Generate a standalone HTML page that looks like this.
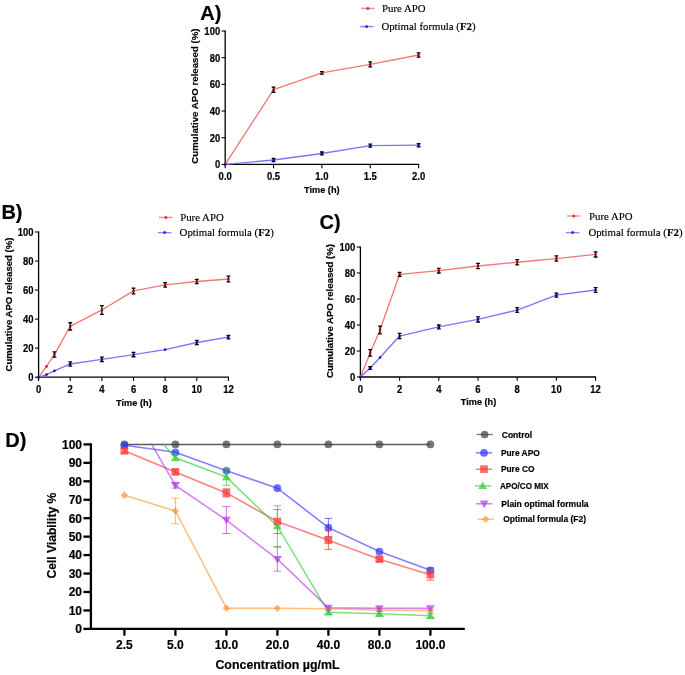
<!DOCTYPE html>
<html><head><meta charset="utf-8"><style>
html,body{margin:0;padding:0;background:#fff;}
body{width:685px;height:675px;overflow:hidden;}
svg{display:block;will-change:transform;} text[font-weight="bold"]{stroke:#000;stroke-width:0.18px;} text[font-weight="normal"]{stroke:#000;stroke-width:0.15px;}
</style></head><body>
<svg width="685" height="675" viewBox="0 0 685 675" font-family='"Liberation Sans", sans-serif'>
<rect width="685" height="675" fill="#fff"/>
<line x1="225.20" y1="30.50" x2="225.20" y2="165.00" stroke="#000" stroke-width="1.3" />
<line x1="224.60" y1="164.40" x2="419.10" y2="164.40" stroke="#000" stroke-width="1.3" />
<line x1="221.60" y1="164.40" x2="225.20" y2="164.40" stroke="#000" stroke-width="1.1" />
<text transform="translate(220.20,168.41) scale(1,1.12)" font-size="9.5" text-anchor="end" font-weight="bold" font-family='"Liberation Sans", sans-serif' fill="#000" >0</text>
<line x1="221.60" y1="137.72" x2="225.20" y2="137.72" stroke="#000" stroke-width="1.1" />
<text transform="translate(220.20,141.73) scale(1,1.12)" font-size="9.5" text-anchor="end" font-weight="bold" font-family='"Liberation Sans", sans-serif' fill="#000" >20</text>
<line x1="221.60" y1="111.04" x2="225.20" y2="111.04" stroke="#000" stroke-width="1.1" />
<text transform="translate(220.20,115.05) scale(1,1.12)" font-size="9.5" text-anchor="end" font-weight="bold" font-family='"Liberation Sans", sans-serif' fill="#000" >40</text>
<line x1="221.60" y1="84.36" x2="225.20" y2="84.36" stroke="#000" stroke-width="1.1" />
<text transform="translate(220.20,88.37) scale(1,1.12)" font-size="9.5" text-anchor="end" font-weight="bold" font-family='"Liberation Sans", sans-serif' fill="#000" >60</text>
<line x1="221.60" y1="57.68" x2="225.20" y2="57.68" stroke="#000" stroke-width="1.1" />
<text transform="translate(220.20,61.69) scale(1,1.12)" font-size="9.5" text-anchor="end" font-weight="bold" font-family='"Liberation Sans", sans-serif' fill="#000" >80</text>
<line x1="221.60" y1="31.00" x2="225.20" y2="31.00" stroke="#000" stroke-width="1.1" />
<text transform="translate(220.20,35.01) scale(1,1.12)" font-size="9.5" text-anchor="end" font-weight="bold" font-family='"Liberation Sans", sans-serif' fill="#000" >100</text>
<line x1="225.20" y1="164.40" x2="225.20" y2="168.20" stroke="#000" stroke-width="1.1" />
<text transform="translate(225.20,180.06) scale(1,1.12)" font-size="9.5" text-anchor="middle" font-weight="bold" font-family='"Liberation Sans", sans-serif' fill="#000" >0.0</text>
<line x1="273.55" y1="164.40" x2="273.55" y2="168.20" stroke="#000" stroke-width="1.1" />
<text transform="translate(273.55,180.06) scale(1,1.12)" font-size="9.5" text-anchor="middle" font-weight="bold" font-family='"Liberation Sans", sans-serif' fill="#000" >0.5</text>
<line x1="321.90" y1="164.40" x2="321.90" y2="168.20" stroke="#000" stroke-width="1.1" />
<text transform="translate(321.90,180.06) scale(1,1.12)" font-size="9.5" text-anchor="middle" font-weight="bold" font-family='"Liberation Sans", sans-serif' fill="#000" >1.0</text>
<line x1="370.25" y1="164.40" x2="370.25" y2="168.20" stroke="#000" stroke-width="1.1" />
<text transform="translate(370.25,180.06) scale(1,1.12)" font-size="9.5" text-anchor="middle" font-weight="bold" font-family='"Liberation Sans", sans-serif' fill="#000" >1.5</text>
<line x1="418.60" y1="164.40" x2="418.60" y2="168.20" stroke="#000" stroke-width="1.1" />
<text transform="translate(418.60,180.06) scale(1,1.12)" font-size="9.5" text-anchor="middle" font-weight="bold" font-family='"Liberation Sans", sans-serif' fill="#000" >2.0</text>
<text transform="translate(321.80,192.80) scale(1,1.08)" font-size="9.2" text-anchor="middle" font-weight="bold" font-family='"Liberation Sans", sans-serif' fill="#000" >Time (h)</text>
<text transform="translate(198.00,96.10) rotate(-90)" font-size="9.7" text-anchor="middle" font-weight="bold" font-family='"Liberation Sans", sans-serif'>Cumulative APO released (%)</text>
<text x="200.20" y="19.70" font-size="20" text-anchor="start" font-weight="bold" font-family='"Liberation Sans", sans-serif' fill="#000" >A)</text>
<polyline points="225.20,164.40 273.55,89.70 321.90,72.89 370.25,64.35 418.60,55.01" fill="none" stroke="#f27878" stroke-width="1.35" stroke-linejoin="round"/>
<rect x="224.10" y="163.30" width="2.2" height="2.2" fill="#b00000"/>
<path d="M273.55,87.16V92.23M271.65,87.16h3.8M271.65,92.23h3.8" stroke="#000" stroke-width="1.3" fill="none"/>
<rect x="272.45" y="88.60" width="2.2" height="2.2" fill="#b00000"/>
<path d="M321.90,71.55V74.22M320.00,71.55h3.8M320.00,74.22h3.8" stroke="#000" stroke-width="1.3" fill="none"/>
<rect x="320.80" y="71.79" width="2.2" height="2.2" fill="#b00000"/>
<path d="M370.25,61.82V66.88M368.35,61.82h3.8M368.35,66.88h3.8" stroke="#000" stroke-width="1.3" fill="none"/>
<rect x="369.15" y="63.25" width="2.2" height="2.2" fill="#b00000"/>
<path d="M418.60,52.88V57.15M416.70,52.88h3.8M416.70,57.15h3.8" stroke="#000" stroke-width="1.3" fill="none"/>
<rect x="417.50" y="53.91" width="2.2" height="2.2" fill="#b00000"/>
<polyline points="225.20,164.40 273.55,160.00 321.90,153.46 370.25,145.59 418.60,145.19" fill="none" stroke="#7878f2" stroke-width="1.35" stroke-linejoin="round"/>
<rect x="224.10" y="163.30" width="2.2" height="2.2" fill="#0000b0"/>
<path d="M273.55,158.40V161.60M271.65,158.40h3.8M271.65,161.60h3.8" stroke="#000" stroke-width="1.3" fill="none"/>
<rect x="272.45" y="158.90" width="2.2" height="2.2" fill="#0000b0"/>
<path d="M321.90,151.99V154.93M320.00,151.99h3.8M320.00,154.93h3.8" stroke="#000" stroke-width="1.3" fill="none"/>
<rect x="320.80" y="152.36" width="2.2" height="2.2" fill="#0000b0"/>
<path d="M370.25,144.12V147.06M368.35,144.12h3.8M368.35,147.06h3.8" stroke="#000" stroke-width="1.3" fill="none"/>
<rect x="369.15" y="144.49" width="2.2" height="2.2" fill="#0000b0"/>
<path d="M418.60,143.59V146.79M416.70,143.59h3.8M416.70,146.79h3.8" stroke="#000" stroke-width="1.3" fill="none"/>
<rect x="417.50" y="144.09" width="2.2" height="2.2" fill="#0000b0"/>
<line x1="361.00" y1="8.40" x2="374.60" y2="8.40" stroke="#f28a8a" stroke-width="1.4" />
<circle cx="367.80" cy="8.40" r="1.5" fill="#e83030"/>
<text x="382.00" y="12.10" font-size="10.8" text-anchor="start" font-weight="normal" font-family='"Liberation Serif", serif' fill="#000" >Pure APO</text>
<line x1="359.80" y1="26.60" x2="373.40" y2="26.60" stroke="#8a8af2" stroke-width="1.4" />
<circle cx="366.60" cy="26.60" r="1.5" fill="#3030e8"/>
<text x="381.40" y="30.30" font-size="10.8" text-anchor="start" font-weight="normal" font-family='"Liberation Serif", serif' fill="#000" >Optimal formula (<tspan font-weight="bold">F2</tspan>)</text>
<line x1="38.60" y1="231.50" x2="38.60" y2="377.80" stroke="#000" stroke-width="1.3" />
<line x1="38.00" y1="377.20" x2="228.90" y2="377.20" stroke="#000" stroke-width="1.3" />
<line x1="35.00" y1="377.20" x2="38.60" y2="377.20" stroke="#000" stroke-width="1.1" />
<text transform="translate(33.60,381.21) scale(1,1.12)" font-size="9.5" text-anchor="end" font-weight="bold" font-family='"Liberation Sans", sans-serif' fill="#000" >0</text>
<line x1="35.00" y1="348.16" x2="38.60" y2="348.16" stroke="#000" stroke-width="1.1" />
<text transform="translate(33.60,352.17) scale(1,1.12)" font-size="9.5" text-anchor="end" font-weight="bold" font-family='"Liberation Sans", sans-serif' fill="#000" >20</text>
<line x1="35.00" y1="319.12" x2="38.60" y2="319.12" stroke="#000" stroke-width="1.1" />
<text transform="translate(33.60,323.13) scale(1,1.12)" font-size="9.5" text-anchor="end" font-weight="bold" font-family='"Liberation Sans", sans-serif' fill="#000" >40</text>
<line x1="35.00" y1="290.08" x2="38.60" y2="290.08" stroke="#000" stroke-width="1.1" />
<text transform="translate(33.60,294.09) scale(1,1.12)" font-size="9.5" text-anchor="end" font-weight="bold" font-family='"Liberation Sans", sans-serif' fill="#000" >60</text>
<line x1="35.00" y1="261.04" x2="38.60" y2="261.04" stroke="#000" stroke-width="1.1" />
<text transform="translate(33.60,265.05) scale(1,1.12)" font-size="9.5" text-anchor="end" font-weight="bold" font-family='"Liberation Sans", sans-serif' fill="#000" >80</text>
<line x1="35.00" y1="232.00" x2="38.60" y2="232.00" stroke="#000" stroke-width="1.1" />
<text transform="translate(33.60,236.01) scale(1,1.12)" font-size="9.5" text-anchor="end" font-weight="bold" font-family='"Liberation Sans", sans-serif' fill="#000" >100</text>
<line x1="38.60" y1="377.20" x2="38.60" y2="381.00" stroke="#000" stroke-width="1.1" />
<text transform="translate(38.60,392.86) scale(1,1.12)" font-size="9.5" text-anchor="middle" font-weight="bold" font-family='"Liberation Sans", sans-serif' fill="#000" >0</text>
<line x1="70.24" y1="377.20" x2="70.24" y2="381.00" stroke="#000" stroke-width="1.1" />
<text transform="translate(70.24,392.86) scale(1,1.12)" font-size="9.5" text-anchor="middle" font-weight="bold" font-family='"Liberation Sans", sans-serif' fill="#000" >2</text>
<line x1="101.88" y1="377.20" x2="101.88" y2="381.00" stroke="#000" stroke-width="1.1" />
<text transform="translate(101.88,392.86) scale(1,1.12)" font-size="9.5" text-anchor="middle" font-weight="bold" font-family='"Liberation Sans", sans-serif' fill="#000" >4</text>
<line x1="133.52" y1="377.20" x2="133.52" y2="381.00" stroke="#000" stroke-width="1.1" />
<text transform="translate(133.52,392.86) scale(1,1.12)" font-size="9.5" text-anchor="middle" font-weight="bold" font-family='"Liberation Sans", sans-serif' fill="#000" >6</text>
<line x1="165.16" y1="377.20" x2="165.16" y2="381.00" stroke="#000" stroke-width="1.1" />
<text transform="translate(165.16,392.86) scale(1,1.12)" font-size="9.5" text-anchor="middle" font-weight="bold" font-family='"Liberation Sans", sans-serif' fill="#000" >8</text>
<line x1="196.80" y1="377.20" x2="196.80" y2="381.00" stroke="#000" stroke-width="1.1" />
<text transform="translate(196.80,392.86) scale(1,1.12)" font-size="9.5" text-anchor="middle" font-weight="bold" font-family='"Liberation Sans", sans-serif' fill="#000" >10</text>
<line x1="228.44" y1="377.20" x2="228.44" y2="381.00" stroke="#000" stroke-width="1.1" />
<text transform="translate(228.44,392.86) scale(1,1.12)" font-size="9.5" text-anchor="middle" font-weight="bold" font-family='"Liberation Sans", sans-serif' fill="#000" >12</text>
<text transform="translate(133.90,405.60) scale(1,1.08)" font-size="9.2" text-anchor="middle" font-weight="bold" font-family='"Liberation Sans", sans-serif' fill="#000" >Time (h)</text>
<text transform="translate(12.40,304.50) rotate(-90)" font-size="9.6" text-anchor="middle" font-weight="bold" font-family='"Liberation Sans", sans-serif'>Cumulative APO released (%)</text>
<text x="1.40" y="218.90" font-size="20" text-anchor="start" font-weight="bold" font-family='"Liberation Sans", sans-serif' fill="#000" >B)</text>
<polyline points="38.60,377.20 46.51,366.46 54.42,354.55 70.24,326.38 101.88,309.97 133.52,290.95 165.16,284.85 196.80,281.51 228.44,279.04" fill="none" stroke="#f27878" stroke-width="1.35" stroke-linejoin="round"/>
<rect x="37.50" y="376.10" width="2.2" height="2.2" fill="#b00000"/>
<rect x="45.41" y="365.36" width="2.2" height="2.2" fill="#b00000"/>
<path d="M54.42,351.94V357.16M52.52,351.94h3.8M52.52,357.16h3.8" stroke="#000" stroke-width="1.3" fill="none"/>
<rect x="53.32" y="353.45" width="2.2" height="2.2" fill="#b00000"/>
<path d="M70.24,322.75V330.01M68.34,322.75h3.8M68.34,330.01h3.8" stroke="#000" stroke-width="1.3" fill="none"/>
<rect x="69.14" y="325.28" width="2.2" height="2.2" fill="#b00000"/>
<path d="M101.88,305.62V314.33M99.98,305.62h3.8M99.98,314.33h3.8" stroke="#000" stroke-width="1.3" fill="none"/>
<rect x="100.78" y="308.87" width="2.2" height="2.2" fill="#b00000"/>
<path d="M133.52,288.05V293.86M131.62,288.05h3.8M131.62,293.86h3.8" stroke="#000" stroke-width="1.3" fill="none"/>
<rect x="132.42" y="289.85" width="2.2" height="2.2" fill="#b00000"/>
<path d="M165.16,282.67V287.03M163.26,282.67h3.8M163.26,287.03h3.8" stroke="#000" stroke-width="1.3" fill="none"/>
<rect x="164.06" y="283.75" width="2.2" height="2.2" fill="#b00000"/>
<path d="M196.80,279.34V283.69M194.90,279.34h3.8M194.90,283.69h3.8" stroke="#000" stroke-width="1.3" fill="none"/>
<rect x="195.70" y="280.41" width="2.2" height="2.2" fill="#b00000"/>
<path d="M228.44,276.14V281.95M226.54,276.14h3.8M226.54,281.95h3.8" stroke="#000" stroke-width="1.3" fill="none"/>
<rect x="227.34" y="277.94" width="2.2" height="2.2" fill="#b00000"/>
<polyline points="38.60,377.20 46.51,374.59 54.42,370.81 70.24,363.99 101.88,359.34 133.52,354.55 165.16,349.61 196.80,342.50 228.44,337.12" fill="none" stroke="#7878f2" stroke-width="1.35" stroke-linejoin="round"/>
<rect x="37.50" y="376.10" width="2.2" height="2.2" fill="#0000b0"/>
<rect x="45.41" y="373.49" width="2.2" height="2.2" fill="#0000b0"/>
<rect x="53.32" y="369.71" width="2.2" height="2.2" fill="#0000b0"/>
<path d="M70.24,361.81V366.16M68.34,361.81h3.8M68.34,366.16h3.8" stroke="#000" stroke-width="1.3" fill="none"/>
<rect x="69.14" y="362.89" width="2.2" height="2.2" fill="#0000b0"/>
<path d="M101.88,357.16V361.52M99.98,357.16h3.8M99.98,361.52h3.8" stroke="#000" stroke-width="1.3" fill="none"/>
<rect x="100.78" y="358.24" width="2.2" height="2.2" fill="#0000b0"/>
<path d="M133.52,352.37V356.73M131.62,352.37h3.8M131.62,356.73h3.8" stroke="#000" stroke-width="1.3" fill="none"/>
<rect x="132.42" y="353.45" width="2.2" height="2.2" fill="#0000b0"/>
<rect x="164.06" y="348.51" width="2.2" height="2.2" fill="#0000b0"/>
<path d="M196.80,340.32V344.68M194.90,340.32h3.8M194.90,344.68h3.8" stroke="#000" stroke-width="1.3" fill="none"/>
<rect x="195.70" y="341.40" width="2.2" height="2.2" fill="#0000b0"/>
<path d="M228.44,335.38V338.87M226.54,335.38h3.8M226.54,338.87h3.8" stroke="#000" stroke-width="1.3" fill="none"/>
<rect x="227.34" y="336.02" width="2.2" height="2.2" fill="#0000b0"/>
<line x1="159.00" y1="217.40" x2="172.60" y2="217.40" stroke="#f28a8a" stroke-width="1.4" />
<circle cx="165.80" cy="217.40" r="1.5" fill="#e83030"/>
<text x="180.20" y="221.10" font-size="10.8" text-anchor="start" font-weight="normal" font-family='"Liberation Serif", serif' fill="#000" >Pure APO</text>
<line x1="157.80" y1="232.60" x2="171.40" y2="232.60" stroke="#8a8af2" stroke-width="1.4" />
<circle cx="164.60" cy="232.60" r="1.5" fill="#3030e8"/>
<text x="179.60" y="236.30" font-size="10.8" text-anchor="start" font-weight="normal" font-family='"Liberation Serif", serif' fill="#000" >Optimal formula (<tspan font-weight="bold">F2</tspan>)</text>
<line x1="360.40" y1="246.50" x2="360.40" y2="377.60" stroke="#000" stroke-width="1.3" />
<line x1="359.80" y1="377.00" x2="596.10" y2="377.00" stroke="#000" stroke-width="1.3" />
<line x1="356.80" y1="377.00" x2="360.40" y2="377.00" stroke="#000" stroke-width="1.1" />
<text transform="translate(355.40,381.01) scale(1,1.12)" font-size="9.5" text-anchor="end" font-weight="bold" font-family='"Liberation Sans", sans-serif' fill="#000" >0</text>
<line x1="356.80" y1="351.00" x2="360.40" y2="351.00" stroke="#000" stroke-width="1.1" />
<text transform="translate(355.40,355.01) scale(1,1.12)" font-size="9.5" text-anchor="end" font-weight="bold" font-family='"Liberation Sans", sans-serif' fill="#000" >20</text>
<line x1="356.80" y1="325.00" x2="360.40" y2="325.00" stroke="#000" stroke-width="1.1" />
<text transform="translate(355.40,329.01) scale(1,1.12)" font-size="9.5" text-anchor="end" font-weight="bold" font-family='"Liberation Sans", sans-serif' fill="#000" >40</text>
<line x1="356.80" y1="299.00" x2="360.40" y2="299.00" stroke="#000" stroke-width="1.1" />
<text transform="translate(355.40,303.01) scale(1,1.12)" font-size="9.5" text-anchor="end" font-weight="bold" font-family='"Liberation Sans", sans-serif' fill="#000" >60</text>
<line x1="356.80" y1="273.00" x2="360.40" y2="273.00" stroke="#000" stroke-width="1.1" />
<text transform="translate(355.40,277.01) scale(1,1.12)" font-size="9.5" text-anchor="end" font-weight="bold" font-family='"Liberation Sans", sans-serif' fill="#000" >80</text>
<line x1="356.80" y1="247.00" x2="360.40" y2="247.00" stroke="#000" stroke-width="1.1" />
<text transform="translate(355.40,251.01) scale(1,1.12)" font-size="9.5" text-anchor="end" font-weight="bold" font-family='"Liberation Sans", sans-serif' fill="#000" >100</text>
<line x1="360.40" y1="377.00" x2="360.40" y2="380.80" stroke="#000" stroke-width="1.1" />
<text transform="translate(360.40,392.66) scale(1,1.12)" font-size="9.5" text-anchor="middle" font-weight="bold" font-family='"Liberation Sans", sans-serif' fill="#000" >0</text>
<line x1="399.60" y1="377.00" x2="399.60" y2="380.80" stroke="#000" stroke-width="1.1" />
<text transform="translate(399.60,392.66) scale(1,1.12)" font-size="9.5" text-anchor="middle" font-weight="bold" font-family='"Liberation Sans", sans-serif' fill="#000" >2</text>
<line x1="438.80" y1="377.00" x2="438.80" y2="380.80" stroke="#000" stroke-width="1.1" />
<text transform="translate(438.80,392.66) scale(1,1.12)" font-size="9.5" text-anchor="middle" font-weight="bold" font-family='"Liberation Sans", sans-serif' fill="#000" >4</text>
<line x1="478.00" y1="377.00" x2="478.00" y2="380.80" stroke="#000" stroke-width="1.1" />
<text transform="translate(478.00,392.66) scale(1,1.12)" font-size="9.5" text-anchor="middle" font-weight="bold" font-family='"Liberation Sans", sans-serif' fill="#000" >6</text>
<line x1="517.20" y1="377.00" x2="517.20" y2="380.80" stroke="#000" stroke-width="1.1" />
<text transform="translate(517.20,392.66) scale(1,1.12)" font-size="9.5" text-anchor="middle" font-weight="bold" font-family='"Liberation Sans", sans-serif' fill="#000" >8</text>
<line x1="556.40" y1="377.00" x2="556.40" y2="380.80" stroke="#000" stroke-width="1.1" />
<text transform="translate(556.40,392.66) scale(1,1.12)" font-size="9.5" text-anchor="middle" font-weight="bold" font-family='"Liberation Sans", sans-serif' fill="#000" >10</text>
<line x1="595.60" y1="377.00" x2="595.60" y2="380.80" stroke="#000" stroke-width="1.1" />
<text transform="translate(595.60,392.66) scale(1,1.12)" font-size="9.5" text-anchor="middle" font-weight="bold" font-family='"Liberation Sans", sans-serif' fill="#000" >12</text>
<text transform="translate(478.50,405.40) scale(1,1.08)" font-size="9.2" text-anchor="middle" font-weight="bold" font-family='"Liberation Sans", sans-serif' fill="#000" >Time (h)</text>
<text transform="translate(332.70,311.00) rotate(-90)" font-size="9.6" text-anchor="middle" font-weight="bold" font-family='"Liberation Sans", sans-serif'>Cumulative APO released (%)</text>
<text x="319.50" y="229.00" font-size="20" text-anchor="start" font-weight="bold" font-family='"Liberation Sans", sans-serif' fill="#000" >C)</text>
<polyline points="360.40,377.00 370.20,352.95 380.00,329.94 399.60,274.30 438.80,270.66 478.00,265.98 517.20,262.21 556.40,258.57 595.60,254.41" fill="none" stroke="#f27878" stroke-width="1.35" stroke-linejoin="round"/>
<rect x="359.30" y="375.90" width="2.2" height="2.2" fill="#b00000"/>
<path d="M370.20,349.70V356.20M368.30,349.70h3.8M368.30,356.20h3.8" stroke="#000" stroke-width="1.3" fill="none"/>
<rect x="369.10" y="351.85" width="2.2" height="2.2" fill="#b00000"/>
<path d="M380.00,326.04V333.84M378.10,326.04h3.8M378.10,333.84h3.8" stroke="#000" stroke-width="1.3" fill="none"/>
<rect x="378.90" y="328.84" width="2.2" height="2.2" fill="#b00000"/>
<path d="M399.60,272.35V276.25M397.70,272.35h3.8M397.70,276.25h3.8" stroke="#000" stroke-width="1.3" fill="none"/>
<rect x="398.50" y="273.20" width="2.2" height="2.2" fill="#b00000"/>
<path d="M438.80,268.32V273.00M436.90,268.32h3.8M436.90,273.00h3.8" stroke="#000" stroke-width="1.3" fill="none"/>
<rect x="437.70" y="269.56" width="2.2" height="2.2" fill="#b00000"/>
<path d="M478.00,263.38V268.58M476.10,263.38h3.8M476.10,268.58h3.8" stroke="#000" stroke-width="1.3" fill="none"/>
<rect x="476.90" y="264.88" width="2.2" height="2.2" fill="#b00000"/>
<path d="M517.20,259.61V264.81M515.30,259.61h3.8M515.30,264.81h3.8" stroke="#000" stroke-width="1.3" fill="none"/>
<rect x="516.10" y="261.11" width="2.2" height="2.2" fill="#b00000"/>
<path d="M556.40,255.97V261.17M554.50,255.97h3.8M554.50,261.17h3.8" stroke="#000" stroke-width="1.3" fill="none"/>
<rect x="555.30" y="257.47" width="2.2" height="2.2" fill="#b00000"/>
<path d="M595.60,251.81V257.01M593.70,251.81h3.8M593.70,257.01h3.8" stroke="#000" stroke-width="1.3" fill="none"/>
<rect x="594.50" y="253.31" width="2.2" height="2.2" fill="#b00000"/>
<polyline points="360.40,377.00 370.20,368.03 380.00,357.50 399.60,336.05 438.80,326.95 478.00,319.41 517.20,310.05 556.40,295.10 595.60,290.03" fill="none" stroke="#7878f2" stroke-width="1.35" stroke-linejoin="round"/>
<rect x="359.30" y="375.90" width="2.2" height="2.2" fill="#0000b0"/>
<path d="M370.20,366.73V369.33M368.30,366.73h3.8M368.30,369.33h3.8" stroke="#000" stroke-width="1.3" fill="none"/>
<rect x="369.10" y="366.93" width="2.2" height="2.2" fill="#0000b0"/>
<rect x="378.90" y="356.40" width="2.2" height="2.2" fill="#0000b0"/>
<path d="M399.60,333.45V338.65M397.70,333.45h3.8M397.70,338.65h3.8" stroke="#000" stroke-width="1.3" fill="none"/>
<rect x="398.50" y="334.95" width="2.2" height="2.2" fill="#0000b0"/>
<path d="M438.80,325.00V328.90M436.90,325.00h3.8M436.90,328.90h3.8" stroke="#000" stroke-width="1.3" fill="none"/>
<rect x="437.70" y="325.85" width="2.2" height="2.2" fill="#0000b0"/>
<path d="M478.00,316.81V322.01M476.10,316.81h3.8M476.10,322.01h3.8" stroke="#000" stroke-width="1.3" fill="none"/>
<rect x="476.90" y="318.31" width="2.2" height="2.2" fill="#0000b0"/>
<path d="M517.20,307.71V312.39M515.30,307.71h3.8M515.30,312.39h3.8" stroke="#000" stroke-width="1.3" fill="none"/>
<rect x="516.10" y="308.95" width="2.2" height="2.2" fill="#0000b0"/>
<path d="M556.40,293.15V297.05M554.50,293.15h3.8M554.50,297.05h3.8" stroke="#000" stroke-width="1.3" fill="none"/>
<rect x="555.30" y="294.00" width="2.2" height="2.2" fill="#0000b0"/>
<path d="M595.60,287.69V292.37M593.70,287.69h3.8M593.70,292.37h3.8" stroke="#000" stroke-width="1.3" fill="none"/>
<rect x="594.50" y="288.93" width="2.2" height="2.2" fill="#0000b0"/>
<line x1="567.00" y1="216.00" x2="580.60" y2="216.00" stroke="#f28a8a" stroke-width="1.4" />
<circle cx="573.80" cy="216.00" r="1.5" fill="#e83030"/>
<text x="589.00" y="219.70" font-size="10.8" text-anchor="start" font-weight="normal" font-family='"Liberation Serif", serif' fill="#000" >Pure APO</text>
<line x1="565.80" y1="232.60" x2="579.40" y2="232.60" stroke="#8a8af2" stroke-width="1.4" />
<circle cx="572.60" cy="232.60" r="1.5" fill="#3030e8"/>
<text x="588.40" y="236.30" font-size="10.8" text-anchor="start" font-weight="normal" font-family='"Liberation Serif", serif' fill="#000" >Optimal formula (<tspan font-weight="bold">F2</tspan>)</text>
<defs><clipPath id="cd"><rect x="92" y="439.4" width="380" height="190"/></clipPath><clipPath id="cl"><rect x="92" y="443.5" width="380" height="190"/></clipPath></defs>
<g clip-path="url(#cl)">
<polyline points="124.40,444.40 175.40,444.40 226.40,444.40 277.40,444.40 328.40,444.40 379.40,444.40 430.40,444.40" fill="none" stroke="#333333" stroke-opacity="0.8" stroke-width="1.6"/>
<polyline points="124.40,445.32 175.40,452.33 226.40,470.78 277.40,488.13 328.40,527.61 379.40,551.59 430.40,570.23" fill="none" stroke="#3333ff" stroke-opacity="0.62" stroke-width="1.6"/>
<polyline points="124.40,450.86 175.40,471.89 226.40,492.92 277.40,521.52 328.40,540.16 379.40,559.16 430.40,574.66" fill="none" stroke="#ff3333" stroke-opacity="0.62" stroke-width="1.6"/>
<polyline points="124.40,399.20 175.40,457.87 226.40,477.06 277.40,526.13 328.40,612.29 379.40,613.77 430.40,615.80" fill="none" stroke="#33cc33" stroke-opacity="0.62" stroke-width="1.6"/>
<polyline points="124.40,397.17 175.40,485.36 226.40,520.04 277.40,559.16 328.40,607.87 379.40,608.42 430.40,608.42" fill="none" stroke="#b43ce6" stroke-opacity="0.62" stroke-width="1.6"/>
<polyline points="124.40,495.32 175.40,511.00 226.40,608.24 277.40,608.24 328.40,608.79 379.40,610.27 430.40,610.63" fill="none" stroke="#ff9933" stroke-opacity="0.62" stroke-width="1.6"/>
</g><g clip-path="url(#cd)">
<path d="M124.40,491.52L128.10,495.32L124.40,499.12L120.70,495.32Z" fill="#ff9933" fill-opacity="0.72"/>
<path d="M175.40,498.27V523.74M171.60,498.27h7.6M171.60,523.74h7.6" stroke="#ff9933" stroke-opacity="0.72" stroke-width="1.0" fill="none"/>
<path d="M175.40,507.20L179.10,511.00L175.40,514.80L171.70,511.00Z" fill="#ff9933" fill-opacity="0.72"/>
<path d="M226.40,604.44L230.10,608.24L226.40,612.04L222.70,608.24Z" fill="#ff9933" fill-opacity="0.72"/>
<path d="M277.40,604.44L281.10,608.24L277.40,612.04L273.70,608.24Z" fill="#ff9933" fill-opacity="0.72"/>
<path d="M328.40,604.99L332.10,608.79L328.40,612.59L324.70,608.79Z" fill="#ff9933" fill-opacity="0.72"/>
<path d="M379.40,606.47L383.10,610.27L379.40,614.07L375.70,610.27Z" fill="#ff9933" fill-opacity="0.72"/>
<path d="M430.40,606.83L434.10,610.63L430.40,614.43L426.70,610.63Z" fill="#ff9933" fill-opacity="0.72"/>
<circle cx="124.40" cy="444.40" r="3.85" fill="#444444" fill-opacity="0.72"/>
<circle cx="175.40" cy="444.40" r="3.85" fill="#444444" fill-opacity="0.72"/>
<circle cx="226.40" cy="444.40" r="3.85" fill="#444444" fill-opacity="0.72"/>
<circle cx="277.40" cy="444.40" r="3.85" fill="#444444" fill-opacity="0.72"/>
<circle cx="328.40" cy="444.40" r="3.85" fill="#444444" fill-opacity="0.72"/>
<circle cx="379.40" cy="444.40" r="3.85" fill="#444444" fill-opacity="0.72"/>
<circle cx="430.40" cy="444.40" r="3.85" fill="#444444" fill-opacity="0.72"/>
<circle cx="124.40" cy="445.32" r="3.85" fill="#3333ff" fill-opacity="0.72"/>
<circle cx="175.40" cy="452.33" r="3.85" fill="#3333ff" fill-opacity="0.72"/>
<circle cx="226.40" cy="470.78" r="3.85" fill="#3333ff" fill-opacity="0.72"/>
<circle cx="277.40" cy="488.13" r="3.85" fill="#3333ff" fill-opacity="0.72"/>
<path d="M328.40,518.38V536.83M324.60,518.38h7.6M324.60,536.83h7.6" stroke="#3333ff" stroke-opacity="0.72" stroke-width="1.0" fill="none"/>
<circle cx="328.40" cy="527.61" r="3.85" fill="#3333ff" fill-opacity="0.72"/>
<circle cx="379.40" cy="551.59" r="3.85" fill="#3333ff" fill-opacity="0.72"/>
<path d="M430.40,568.01V572.44M426.60,568.01h7.6M426.60,572.44h7.6" stroke="#3333ff" stroke-opacity="0.72" stroke-width="1.0" fill="none"/>
<circle cx="430.40" cy="570.23" r="3.85" fill="#3333ff" fill-opacity="0.72"/>
<path d="M124.40,448.64V453.07M120.60,448.64h7.6M120.60,453.07h7.6" stroke="#ff3333" stroke-opacity="0.72" stroke-width="1.0" fill="none"/>
<rect x="120.55" y="447.01" width="7.7" height="7.7" fill="#ff3333" fill-opacity="0.72"/>
<path d="M175.40,469.68V474.10M171.60,469.68h7.6M171.60,474.10h7.6" stroke="#ff3333" stroke-opacity="0.72" stroke-width="1.0" fill="none"/>
<rect x="171.55" y="468.04" width="7.7" height="7.7" fill="#ff3333" fill-opacity="0.72"/>
<path d="M226.40,488.86V496.98M222.60,488.86h7.6M222.60,496.98h7.6" stroke="#ff3333" stroke-opacity="0.72" stroke-width="1.0" fill="none"/>
<rect x="222.55" y="489.07" width="7.7" height="7.7" fill="#ff3333" fill-opacity="0.72"/>
<path d="M277.40,509.53V533.51M273.60,509.53h7.6M273.60,533.51h7.6" stroke="#ff3333" stroke-opacity="0.72" stroke-width="1.0" fill="none"/>
<rect x="273.55" y="517.67" width="7.7" height="7.7" fill="#ff3333" fill-opacity="0.72"/>
<path d="M328.40,530.93V549.38M324.60,530.93h7.6M324.60,549.38h7.6" stroke="#ff3333" stroke-opacity="0.72" stroke-width="1.0" fill="none"/>
<rect x="324.55" y="536.31" width="7.7" height="7.7" fill="#ff3333" fill-opacity="0.72"/>
<path d="M379.40,556.94V561.37M375.60,556.94h7.6M375.60,561.37h7.6" stroke="#ff3333" stroke-opacity="0.72" stroke-width="1.0" fill="none"/>
<rect x="375.55" y="555.31" width="7.7" height="7.7" fill="#ff3333" fill-opacity="0.72"/>
<path d="M430.40,569.12V580.19M426.60,569.12h7.6M426.60,580.19h7.6" stroke="#ff3333" stroke-opacity="0.72" stroke-width="1.0" fill="none"/>
<rect x="426.55" y="570.81" width="7.7" height="7.7" fill="#ff3333" fill-opacity="0.72"/>
<path d="M175.40,455.10V460.64M171.60,455.10h7.6M171.60,460.64h7.6" stroke="#33cc33" stroke-opacity="0.72" stroke-width="1.0" fill="none"/>
<path d="M175.40,453.47L179.80,461.07L171.00,461.07Z" fill="#33cc33" fill-opacity="0.72"/>
<path d="M226.40,468.75V485.36M222.60,468.75h7.6M222.60,485.36h7.6" stroke="#33cc33" stroke-opacity="0.72" stroke-width="1.0" fill="none"/>
<path d="M226.40,472.66L230.80,480.26L222.00,480.26Z" fill="#33cc33" fill-opacity="0.72"/>
<path d="M277.40,505.84V546.43M273.60,505.84h7.6M273.60,546.43h7.6" stroke="#33cc33" stroke-opacity="0.72" stroke-width="1.0" fill="none"/>
<path d="M277.40,521.73L281.80,529.33L273.00,529.33Z" fill="#33cc33" fill-opacity="0.72"/>
<path d="M328.40,610.08V614.51M324.60,610.08h7.6M324.60,614.51h7.6" stroke="#33cc33" stroke-opacity="0.72" stroke-width="1.0" fill="none"/>
<path d="M328.40,607.89L332.80,615.50L324.00,615.50Z" fill="#33cc33" fill-opacity="0.72"/>
<path d="M379.40,611.56V615.99M375.60,611.56h7.6M375.60,615.99h7.6" stroke="#33cc33" stroke-opacity="0.72" stroke-width="1.0" fill="none"/>
<path d="M379.40,609.37L383.80,616.97L375.00,616.97Z" fill="#33cc33" fill-opacity="0.72"/>
<path d="M430.40,613.59V618.01M426.60,613.59h7.6M426.60,618.01h7.6" stroke="#33cc33" stroke-opacity="0.72" stroke-width="1.0" fill="none"/>
<path d="M430.40,611.40L434.80,619.00L426.00,619.00Z" fill="#33cc33" fill-opacity="0.72"/>
<path d="M175.40,482.59V488.13M171.60,482.59h7.6M171.60,488.13h7.6" stroke="#b43ce6" stroke-opacity="0.72" stroke-width="1.0" fill="none"/>
<path d="M175.40,489.76L179.80,482.16L171.00,482.16Z" fill="#b43ce6" fill-opacity="0.72"/>
<path d="M226.40,506.58V533.51M222.60,506.58h7.6M222.60,533.51h7.6" stroke="#b43ce6" stroke-opacity="0.72" stroke-width="1.0" fill="none"/>
<path d="M226.40,524.44L230.80,516.84L222.00,516.84Z" fill="#b43ce6" fill-opacity="0.72"/>
<path d="M277.40,547.17V571.15M273.60,547.17h7.6M273.60,571.15h7.6" stroke="#b43ce6" stroke-opacity="0.72" stroke-width="1.0" fill="none"/>
<path d="M277.40,563.56L281.80,555.96L273.00,555.96Z" fill="#b43ce6" fill-opacity="0.72"/>
<path d="M328.40,612.27L332.80,604.67L324.00,604.67Z" fill="#b43ce6" fill-opacity="0.72"/>
<path d="M379.40,612.82L383.80,605.22L375.00,605.22Z" fill="#b43ce6" fill-opacity="0.72"/>
<path d="M430.40,612.82L434.80,605.22L426.00,605.22Z" fill="#b43ce6" fill-opacity="0.72"/>
</g>
<line x1="90.90" y1="443.30" x2="90.90" y2="630.00" stroke="#000" stroke-width="2.3" />
<line x1="89.80" y1="628.90" x2="464.80" y2="628.90" stroke="#000" stroke-width="2.3" />
<line x1="83.40" y1="628.90" x2="90.90" y2="628.90" stroke="#000" stroke-width="2.3" />
<text x="82.00" y="633.20" font-size="12" text-anchor="end" font-weight="bold" font-family='"Liberation Sans", sans-serif' fill="#000" >0</text>
<line x1="83.40" y1="610.45" x2="90.90" y2="610.45" stroke="#000" stroke-width="2.3" />
<text x="82.00" y="614.75" font-size="12" text-anchor="end" font-weight="bold" font-family='"Liberation Sans", sans-serif' fill="#000" >10</text>
<line x1="83.40" y1="592.00" x2="90.90" y2="592.00" stroke="#000" stroke-width="2.3" />
<text x="82.00" y="596.30" font-size="12" text-anchor="end" font-weight="bold" font-family='"Liberation Sans", sans-serif' fill="#000" >20</text>
<line x1="83.40" y1="573.55" x2="90.90" y2="573.55" stroke="#000" stroke-width="2.3" />
<text x="82.00" y="577.85" font-size="12" text-anchor="end" font-weight="bold" font-family='"Liberation Sans", sans-serif' fill="#000" >30</text>
<line x1="83.40" y1="555.10" x2="90.90" y2="555.10" stroke="#000" stroke-width="2.3" />
<text x="82.00" y="559.40" font-size="12" text-anchor="end" font-weight="bold" font-family='"Liberation Sans", sans-serif' fill="#000" >40</text>
<line x1="83.40" y1="536.65" x2="90.90" y2="536.65" stroke="#000" stroke-width="2.3" />
<text x="82.00" y="540.95" font-size="12" text-anchor="end" font-weight="bold" font-family='"Liberation Sans", sans-serif' fill="#000" >50</text>
<line x1="83.40" y1="518.20" x2="90.90" y2="518.20" stroke="#000" stroke-width="2.3" />
<text x="82.00" y="522.50" font-size="12" text-anchor="end" font-weight="bold" font-family='"Liberation Sans", sans-serif' fill="#000" >60</text>
<line x1="83.40" y1="499.75" x2="90.90" y2="499.75" stroke="#000" stroke-width="2.3" />
<text x="82.00" y="504.05" font-size="12" text-anchor="end" font-weight="bold" font-family='"Liberation Sans", sans-serif' fill="#000" >70</text>
<line x1="83.40" y1="481.30" x2="90.90" y2="481.30" stroke="#000" stroke-width="2.3" />
<text x="82.00" y="485.60" font-size="12" text-anchor="end" font-weight="bold" font-family='"Liberation Sans", sans-serif' fill="#000" >80</text>
<line x1="83.40" y1="462.85" x2="90.90" y2="462.85" stroke="#000" stroke-width="2.3" />
<text x="82.00" y="467.15" font-size="12" text-anchor="end" font-weight="bold" font-family='"Liberation Sans", sans-serif' fill="#000" >90</text>
<line x1="83.40" y1="444.40" x2="90.90" y2="444.40" stroke="#000" stroke-width="2.3" />
<text x="82.00" y="448.70" font-size="12" text-anchor="end" font-weight="bold" font-family='"Liberation Sans", sans-serif' fill="#000" >100</text>
<line x1="124.40" y1="628.90" x2="124.40" y2="635.70" stroke="#000" stroke-width="2.3" />
<text x="124.40" y="648.70" font-size="12" text-anchor="middle" font-weight="bold" font-family='"Liberation Sans", sans-serif' fill="#000" >2.5</text>
<line x1="175.40" y1="628.90" x2="175.40" y2="635.70" stroke="#000" stroke-width="2.3" />
<text x="175.40" y="648.70" font-size="12" text-anchor="middle" font-weight="bold" font-family='"Liberation Sans", sans-serif' fill="#000" >5.0</text>
<line x1="226.40" y1="628.90" x2="226.40" y2="635.70" stroke="#000" stroke-width="2.3" />
<text x="226.40" y="648.70" font-size="12" text-anchor="middle" font-weight="bold" font-family='"Liberation Sans", sans-serif' fill="#000" >10.0</text>
<line x1="277.40" y1="628.90" x2="277.40" y2="635.70" stroke="#000" stroke-width="2.3" />
<text x="277.40" y="648.70" font-size="12" text-anchor="middle" font-weight="bold" font-family='"Liberation Sans", sans-serif' fill="#000" >20.0</text>
<line x1="328.40" y1="628.90" x2="328.40" y2="635.70" stroke="#000" stroke-width="2.3" />
<text x="328.40" y="648.70" font-size="12" text-anchor="middle" font-weight="bold" font-family='"Liberation Sans", sans-serif' fill="#000" >40.0</text>
<line x1="379.40" y1="628.90" x2="379.40" y2="635.70" stroke="#000" stroke-width="2.3" />
<text x="379.40" y="648.70" font-size="12" text-anchor="middle" font-weight="bold" font-family='"Liberation Sans", sans-serif' fill="#000" >80.0</text>
<line x1="430.40" y1="628.90" x2="430.40" y2="635.70" stroke="#000" stroke-width="2.3" />
<text x="430.40" y="648.70" font-size="12" text-anchor="middle" font-weight="bold" font-family='"Liberation Sans", sans-serif' fill="#000" >100.0</text>
<text x="277.50" y="668.50" font-size="12.4" text-anchor="middle" font-weight="bold" font-family='"Liberation Sans", sans-serif' fill="#000" >Concentration µg/mL</text>
<text transform="translate(56.2,535.6) rotate(-90)" font-size="12.1" text-anchor="middle" font-weight="bold" font-family='"Liberation Sans", sans-serif'>Cell Viability %</text>
<text x="5.20" y="446.50" font-size="20" text-anchor="start" font-weight="bold" font-family='"Liberation Sans", sans-serif' fill="#000" >D)</text>
<line x1="476.6" y1="434.5" x2="492.8" y2="434.5" stroke="#444444" stroke-opacity="0.72" stroke-width="1.3"/>
<circle cx="484.60" cy="434.50" r="3.85" fill="#444444" fill-opacity="0.72"/>
<text x="501.70" y="437.60" font-size="8.5" text-anchor="start" font-weight="bold" font-family='"Liberation Sans", sans-serif' fill="#000"  textLength="30.5" lengthAdjust="spacingAndGlyphs">Control</text>
<line x1="475.7" y1="452.9" x2="492.2" y2="452.9" stroke="#3333ff" stroke-opacity="0.72" stroke-width="1.3"/>
<circle cx="484.00" cy="452.90" r="3.85" fill="#3333ff" fill-opacity="0.72"/>
<text x="500.90" y="456.00" font-size="8.5" text-anchor="start" font-weight="bold" font-family='"Liberation Sans", sans-serif' fill="#000"  textLength="38.9" lengthAdjust="spacingAndGlyphs">Pure APO</text>
<line x1="475.7" y1="469.2" x2="492.2" y2="469.2" stroke="#ff3333" stroke-opacity="0.72" stroke-width="1.3"/>
<rect x="480.15" y="465.35" width="7.7" height="7.7" fill="#ff3333" fill-opacity="0.72"/>
<text x="500.90" y="472.30" font-size="8.5" text-anchor="start" font-weight="bold" font-family='"Liberation Sans", sans-serif' fill="#000"  textLength="33.6" lengthAdjust="spacingAndGlyphs">Pure CO</text>
<line x1="474.7" y1="485.9" x2="491.3" y2="485.9" stroke="#33cc33" stroke-opacity="0.72" stroke-width="1.3"/>
<path d="M482.70,481.50L487.10,489.10L478.30,489.10Z" fill="#33cc33" fill-opacity="0.72"/>
<text x="500.00" y="489.00" font-size="8.5" text-anchor="start" font-weight="bold" font-family='"Liberation Sans", sans-serif' fill="#000"  textLength="48.7" lengthAdjust="spacingAndGlyphs">APO/CO MIX</text>
<line x1="476.1" y1="503.8" x2="492.4" y2="503.8" stroke="#b43ce6" stroke-opacity="0.72" stroke-width="1.3"/>
<path d="M484.20,508.20L488.60,500.60L479.80,500.60Z" fill="#b43ce6" fill-opacity="0.72"/>
<text x="501.30" y="506.90" font-size="8.5" text-anchor="start" font-weight="bold" font-family='"Liberation Sans", sans-serif' fill="#000"  textLength="87.3" lengthAdjust="spacingAndGlyphs">Plain optimal formula</text>
<line x1="477.6" y1="519.2" x2="493.7" y2="519.2" stroke="#ff9933" stroke-opacity="0.72" stroke-width="1.3"/>
<path d="M485.60,515.40L489.30,519.20L485.60,523.00L481.90,519.20Z" fill="#ff9933" fill-opacity="0.72"/>
<text x="503.20" y="522.30" font-size="8.5" text-anchor="start" font-weight="bold" font-family='"Liberation Sans", sans-serif' fill="#000"  textLength="82.9" lengthAdjust="spacingAndGlyphs">Optimal formula (F2)</text>
</svg>
</body></html>
